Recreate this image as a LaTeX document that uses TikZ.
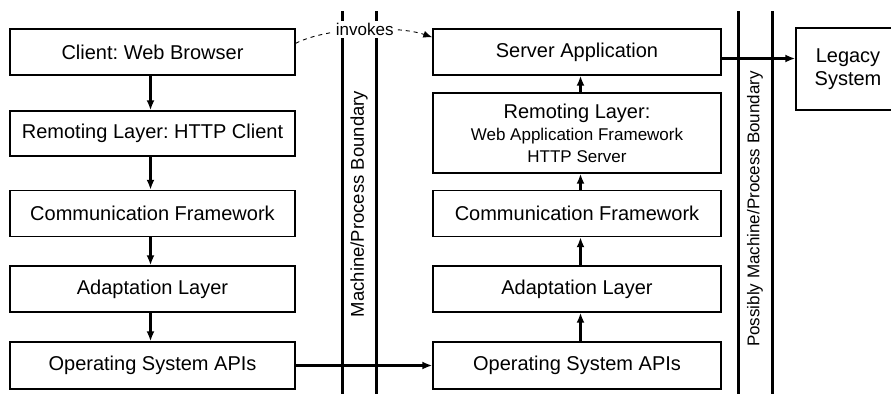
\documentclass[tikz,border=0pt]{standalone}
\usepackage{fontspec}
\setmainfont{Liberation Sans}
\frenchspacing
\usetikzlibrary{arrows.meta}
\begin{document}
\begin{tikzpicture}[x=1pt,y=-1pt,
  layer/.style={draw=black, line width=1.4pt, fill=white, inner sep=0pt,
    align=center, font=\fontsize{20}{23}\selectfont},
  flow/.style={line width=3pt, -{Latex[length=10pt,width=8pt]}},
  wall/.style={line width=3pt},
  walllabel/.style={rotate=90, inner sep=0pt}]
\useasboundingbox (0,0) rectangle (891,394);

% boundary walls
\coordinate (w1t) at (342,11);  \coordinate (w1b) at (342,394);
\coordinate (w2t) at (376,11);  \coordinate (w2b) at (376,394);
\coordinate (w3t) at (738,11);  \coordinate (w3b) at (738,394);
\coordinate (w4t) at (772,11);  \coordinate (w4b) at (772,394);
\draw[wall] (w1t) -- (w1b);
\draw[wall] (w2t) -- (w2b);
\draw[wall] (w3t) -- (w3b);
\draw[wall] (w4t) -- (w4b);
\node[walllabel, font=\fontsize{18.5}{20}\selectfont] (mpb) at (359,204) {Machine/Process Boundary};
\node[walllabel, font=\fontsize{17}{20}\selectfont] (pmpb) at (755,209) {Possibly Machine/Process Boundary};

% client stack
\node[layer, minimum width=285, minimum height=46] (cl) at (152.5,52) {Client: Web Browser};
\node[layer, minimum width=285, minimum height=45] (crl) at (152.5,133.5) {Remoting Layer: HTTP Client};
\node[layer, minimum width=285, minimum height=46] (ccf) at (152.5,213.5) {Communication Framework};
\node[layer, minimum width=285, minimum height=46] (cal) at (152.5,289) {Adaptation Layer};
\node[layer, minimum width=285, minimum height=47] (cos) at (152.5,365.5) {Operating System APIs};

% server stack
\node[layer, minimum width=288, minimum height=46] (sa) at (577,52) {Server Application};
\node[layer, minimum width=288, minimum height=80] (srl) at (577,133)
  {Remoting Layer:\\[-1pt]{\fontsize{17}{21}\selectfont Web Application Framework}\\[-1pt]{\fontsize{17}{21}\selectfont HTTP Server}};
\node[layer, minimum width=288, minimum height=46] (scf) at (577,213.5) {Communication Framework};
\node[layer, minimum width=288, minimum height=46] (sal) at (577,289) {Adaptation Layer};
\node[layer, minimum width=288, minimum height=47] (sos) at (577,365.5) {Operating System APIs};

% legacy system
\node[layer, minimum width=96, minimum height=82, text width=96, align=center] (leg) at (844,69) {\hspace*{8pt}Legacy\\\hspace*{8pt}System};

% call flow
\draw[flow] ([xshift=-2pt]cl.south) -- ([xshift=-2pt]crl.north);
\draw[flow] ([xshift=-2pt]crl.south) -- ([xshift=-2pt]ccf.north);
\draw[flow] ([xshift=-2pt]ccf.south) -- ([xshift=-2pt]cal.north);
\draw[flow] ([xshift=-2pt]cal.south) -- ([xshift=-2pt]cos.north);
\draw[flow] (cos.east) -- (sos.west);
\draw[flow] ([xshift=3.5pt]sos.north) -- ([xshift=3.5pt]sal.south);
\draw[flow] ([xshift=3.5pt]sal.north) -- ([xshift=3.5pt]scf.south);
\draw[flow] ([xshift=3.5pt]scf.north) -- ([xshift=3.5pt]srl.south);
\draw[flow] ([xshift=3.5pt]srl.north) -- ([xshift=3.5pt]sa.south);
\draw[flow] ([yshift=-6.5pt]sa.east) -- ([yshift=10.5pt]leg.west);

% logical invocation
\draw[line width=0.9pt, dash pattern=on 4pt off 4pt, -{Latex[length=9pt,width=7pt]}]
  ([yshift=-15pt]cl.north east) .. controls (330,26) and (400,26) .. ([yshift=-9pt]sa.north west)
  node[pos=0.5, fill=white, inner sep=2.5pt, font=\fontsize{17}{19}\selectfont] (inv) {invokes};
\end{tikzpicture}
\end{document}
